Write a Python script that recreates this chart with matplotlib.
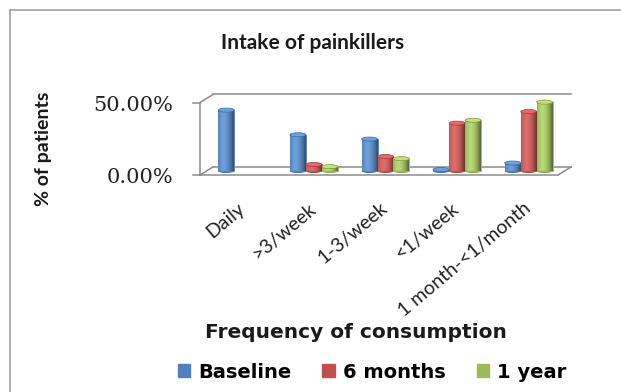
import matplotlib
matplotlib.use("Agg")
import matplotlib.pyplot as plt
import numpy as np
from matplotlib.patches import Ellipse, Rectangle
from matplotlib.lines import Line2D

############################################
# DATOS
categorias = ["Daily", ">3/week", "1-3/week", "<1/week", "1 month-<1/month"]
baseline = [42, 25, 22, 1, 5.5]
seis_meses = [0, 4.5, 10, 33, 41]
un_anio = [0, 3, 8.5, 35, 47.5]
series = ["Baseline", "6 months", "1 year"]
colores = ["#4F81BD", "#C0504D", "#9BBB59"]
############################################

plt.rcParams['font.family'] = ['Lato', 'DejaVu Sans']
W, H = 621, 392
fig = plt.figure(figsize=(W / 100, H / 100), dpi=100)

def fx(px):
    return px / W

def fy(py):
    return 1 - py / H

# borde del grafico
fig.add_artist(Line2D([fx(10), fx(10)], [fy(10), 0], color="#a0a0a0", lw=1.2))
fig.add_artist(Line2D([fx(10), 1], [fy(10), fy(10)], color="#a0a0a0", lw=1.2))

ax = fig.add_axes([fx(206.5), fy(171), fx(564.5) - fx(206.5), (171 - 98.5) / H])
ax.set_xlim(-0.5, 4.5)
ax.set_ylim(0, 50)
ax.axis("off")

# marco 3D (pared y piso)
dx, dy = 0.091, 2.76
gris = "#8c8c8c"
def linea(xs, ys):
    ax.plot(xs, ys, color=gris, lw=1.1, clip_on=False, zorder=1)
linea([-0.5 - dx, -0.5 - dx], [-dy, 50 - dy])
linea([-0.5 - dx, -0.5 + dx], [50 - dy, 50 + dy])
linea([-0.5 - dx, -0.5 + dx], [-dy, dy])
linea([-0.5 + dx, 4.5 + dx], [50 + dy, 50 + dy])
linea([-0.5 + dx, 4.5 + dx], [dy, dy])
linea([-0.5 - dx, 4.5 - dx], [-dy, -dy])
linea([4.5 - dx, 4.5 + dx], [-dy, dy])
for v in [0, 50]:
    linea([-0.5 - dx - 0.1, -0.5 - dx], [v - dy, v - dy])
    ax.text(-0.968, v - dy - 1.8, "%.2f%%" % v, ha="right", va="center",
            fontsize=15, family="DejaVu Serif", color="#222222")

x = np.arange(len(categorias))
ancho = 0.223
datos = [baseline, seis_meses, un_anio]
for i, (vals, c) in enumerate(zip(datos, colores)):
    pos = x + (i - 1) * ancho
    barras = ax.bar(pos, vals, width=ancho, color=c, edgecolor=c, lw=0.6,
                    clip_on=False, zorder=3, label=series[i])
    rgb = np.array(matplotlib.colors.to_rgb(c))
    for b, v in zip(barras, vals):
        if v <= 0:
            b.set_visible(False)
            continue
        # sombreado de cilindro
        t = np.linspace(0, 1, 40)
        luz = 1 - 0.55 * (t - 0.35) ** 2 * 2.2
        grad = np.clip(rgb[None, :] * luz[:, None] + 0.12 * (1 - np.abs(t - 0.35))[:, None], 0, 1)
        img = ax.imshow(grad[None, :, :], extent=[b.get_x(), b.get_x() + b.get_width(), 0, v],
                        aspect="auto", zorder=3.5, clip_on=False)
        img.set_clip_path(b)
        ax.add_patch(Ellipse((b.get_x() + b.get_width() / 2, v), b.get_width(), 2.8,
                             facecolor=np.clip(rgb * 1.15 + 0.05, 0, 1), edgecolor=rgb * 0.8,
                             lw=0.5, clip_on=False, zorder=4))
        ax.add_patch(Ellipse((b.get_x() + b.get_width() / 2, 0), b.get_width(), 2.8,
                             facecolor=rgb * 0.9, edgecolor="none", clip_on=False, zorder=2.9))

for xi, cat in zip(x, categorias):
    ax.text(xi - 0.08, -19.5, cat, rotation=40, ha="right", va="top",
            fontsize=14, rotation_mode="anchor", color="#222222")

fig.text(fx(313), fy(43), "Intake of painkillers", ha="center", va="center",
         fontsize=15, fontweight="bold", color="#1a1a1a")
fig.text(fx(43), fy(149), "% of patients", ha="center", va="center", rotation=90,
         fontsize=14, fontweight="bold", color="#1a1a1a")
fig.text(fx(356), fy(332), "Frequency of consumption", ha="center", va="center",
         fontsize=14.5, fontweight="bold", family="DejaVu Sans", color="#1a1a1a")

proxies = [Rectangle((0, 0), 1, 1, color=c) for c in colores]
fig.legend(proxies, series, loc="center", bbox_to_anchor=(fx(372), fy(372)), ncol=3,
           frameon=False, handlelength=0.65, handleheight=0.65, handletextpad=0.4,
           columnspacing=1.6, prop={"weight": "bold", "size": 14, "family": "DejaVu Sans"})

fig.savefig("out.png", dpi=100)
